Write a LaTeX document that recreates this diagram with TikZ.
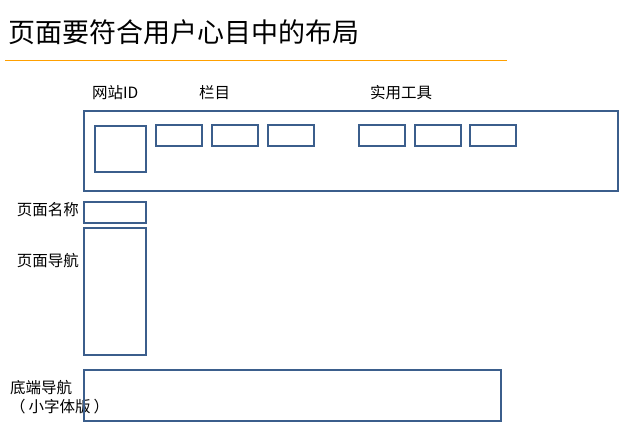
\documentclass[tikz,border=0pt]{standalone}
\usepackage{fontspec}
\setmainfont{Noto Sans CJK SC}
\definecolor{boxblue}{HTML}{3B5E8C}
\definecolor{ruleorange}{HTML}{FFA000}

\begin{document}
\begin{tikzpicture}[x=1pt,y=-1pt,
	box/.style={draw=boxblue,line width=2pt,inner sep=0,anchor=north west},
	lbl/.style={inner sep=0,font=\fontsize{15.5}{19}\selectfont}]
\useasboundingbox (0,0) rectangle (629,430);
\path
	(8,32) node (title) [anchor=west,inner sep=0,font=\fontsize{27}{30}\selectfont] {页面要符合用户心目中的布局}
	(5,60.5) coordinate (ruleL)
	(507,60.5) coordinate (ruleR);
\draw[ruleorange,line width=1.3pt] (ruleL) -- (ruleR);
% header
\path
	(92,93) node (logolbl) [lbl,anchor=west] {网站ID}
	(199,93) node (collbl) [lbl,anchor=west] {栏目}
	(370,93) node (toollbl) [lbl,anchor=west] {实用工具}
	(83,110) node (header) [box,minimum width=534pt,minimum height=80pt] {}
	(94,125) node (logo) [box,minimum width=51pt,minimum height=46pt] {};
\foreach \x/\n in {155/col1,211/col2,267/col3,358/tool1,414/tool2,469/tool3}
	\path (\x,124) node (\n) [box,minimum width=46pt,minimum height=21pt] {};
% left column
\path
	(79,210) node (namelbl) [lbl,anchor=east] {页面名称}
	(83,201) node (name) [box,minimum width=62pt,minimum height=21pt] {}
	(79,261) node (navlbl) [lbl,anchor=east] {页面导航}
	(83,227) node (nav) [box,minimum width=62pt,minimum height=127pt] {};
% footer
\path
	(10,397) node (footlbl) [lbl,anchor=west,align=left] {底端导航\\（\hspace{3pt}小字体版\hspace{3pt}）}
	(83,369) node (footer) [box,minimum width=417pt,minimum height=51pt] {};
\end{tikzpicture}
\end{document}
